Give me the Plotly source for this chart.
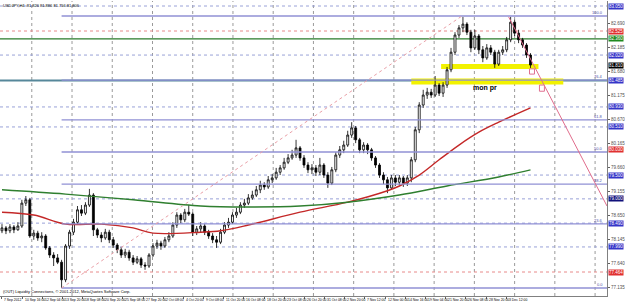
import plotly.graph_objects as go

# ---------------- data (USDJPY, H4 – each bar below summarises the visible candles) ----------------
opens = [78.33, 78.39, 78.33, 78.41, 78.35, 78.43, 78.91, 78.98, 78.22, 78.28,
         78.18, 78.22, 77.97, 77.82, 77.76, 77.67, 77.30, 78.01, 78.30, 78.51,
         78.77, 78.70, 78.87, 79.08, 78.35, 78.24, 78.18, 78.30, 78.14, 78.03,
         77.93, 77.82, 77.88, 77.76, 77.67, 77.74, 77.61, 77.59, 77.82, 78.01,
         78.07, 78.01, 78.14, 78.22, 78.45, 78.66, 78.56, 78.72, 78.68, 78.30,
         78.37, 78.43, 78.30, 78.22, 78.14, 78.09, 78.30, 78.45, 78.51, 78.66,
         78.72, 78.87, 78.91, 79.02, 79.08, 79.19, 79.29, 79.25, 79.40, 79.44,
         79.56, 79.65, 79.77, 79.86, 79.92, 80.07, 79.86, 79.71, 79.61, 79.65,
         79.56, 79.71, 79.50, 79.33, 79.61, 79.92, 80.03, 80.13, 80.34, 80.49,
         80.24, 80.03, 80.13, 80.03, 79.86, 79.71, 79.50, 79.40, 79.23, 79.44,
         79.35, 79.44, 79.33, 79.44, 79.82, 80.45, 80.97, 81.18, 81.24, 81.18,
         81.39, 81.22, 81.39, 81.71, 82.08, 82.44, 82.59, 82.67, 82.50, 82.17,
         82.42, 82.13, 81.96, 82.17, 82.08, 81.83, 82.08, 82.13, 82.34, 82.71,
         82.48, 82.34, 82.23, 82.02]
closes = [78.39, 78.33, 78.41, 78.35, 78.43, 78.91, 78.98, 78.22, 78.28, 78.18,
          78.22, 77.97, 77.82, 77.76, 77.67, 77.30, 78.01, 78.30, 78.51, 78.77,
          78.70, 78.87, 79.08, 78.35, 78.24, 78.18, 78.30, 78.14, 78.03, 77.93,
          77.82, 77.88, 77.76, 77.67, 77.74, 77.61, 77.59, 77.82, 78.01, 78.07,
          78.01, 78.14, 78.22, 78.45, 78.66, 78.56, 78.72, 78.68, 78.30, 78.37,
          78.43, 78.30, 78.22, 78.14, 78.09, 78.30, 78.45, 78.51, 78.66, 78.72,
          78.87, 78.91, 79.02, 79.08, 79.19, 79.29, 79.25, 79.40, 79.44, 79.56,
          79.65, 79.77, 79.86, 79.92, 80.07, 79.86, 79.71, 79.61, 79.65, 79.56,
          79.71, 79.50, 79.33, 79.61, 79.92, 80.03, 80.13, 80.34, 80.49, 80.24,
          80.03, 80.13, 80.03, 79.86, 79.71, 79.50, 79.40, 79.23, 79.44, 79.35,
          79.44, 79.33, 79.44, 79.82, 80.45, 80.97, 81.18, 81.24, 81.18, 81.39,
          81.22, 81.39, 81.71, 82.08, 82.44, 82.59, 82.67, 82.50, 82.17, 82.42,
          82.13, 81.96, 82.17, 82.08, 81.83, 82.08, 82.13, 82.34, 82.71, 82.48,
          82.34, 82.23, 82.02, 81.81]
highs = [78.47, 78.43, 78.47, 78.45, 78.51, 78.98, 79.06, 79.02, 78.35, 78.33,
         78.30, 78.26, 78.01, 77.88, 77.84, 77.72, 78.05, 78.35, 78.58, 78.85,
         78.87, 78.93, 79.21, 79.12, 78.39, 78.30, 78.37, 78.35, 78.20, 78.07,
         77.99, 77.95, 77.93, 77.82, 77.80, 77.78, 77.67, 77.86, 78.07, 78.14,
         78.12, 78.20, 78.30, 78.51, 78.72, 78.70, 78.79, 78.87, 78.72, 78.43,
         78.51, 78.47, 78.35, 78.28, 78.22, 78.37, 78.51, 78.60, 78.72, 78.81,
         78.93, 79.00, 79.10, 79.17, 79.27, 79.38, 79.35, 79.48, 79.52, 79.65,
         79.71, 79.86, 79.94, 80.03, 80.24, 80.11, 79.92, 79.77, 79.73, 79.71,
         79.86, 79.75, 79.56, 79.67, 79.98, 80.11, 80.22, 80.43, 80.61, 80.53,
         80.28, 80.19, 80.17, 80.07, 79.90, 79.75, 79.56, 79.46, 79.50, 79.50,
         79.50, 79.48, 79.50, 79.88, 80.51, 81.03, 81.29, 81.33, 81.31, 81.58,
         81.43, 81.45, 81.77, 82.17, 82.50, 82.65, 82.82, 82.71, 82.55, 82.55,
         82.46, 82.21, 82.25, 82.23, 82.13, 82.13, 82.21, 82.40, 82.82, 82.76,
         82.55, 82.38, 82.27, 82.06]
lows = [78.28, 78.26, 78.28, 78.28, 78.33, 78.39, 78.85, 78.18, 78.14, 78.12,
        78.09, 77.93, 77.76, 77.59, 77.63, 77.13, 77.25, 77.95, 78.24, 78.47,
        78.64, 78.66, 78.83, 78.22, 78.18, 78.09, 78.14, 78.07, 77.97, 77.86,
        77.76, 77.76, 77.70, 77.61, 77.63, 77.55, 77.51, 77.55, 77.78, 77.95,
        77.93, 77.97, 78.09, 78.18, 78.39, 78.49, 78.51, 78.64, 78.22, 78.24,
        78.30, 78.24, 78.16, 78.07, 77.97, 78.05, 78.26, 78.39, 78.47, 78.60,
        78.68, 78.81, 78.87, 78.98, 79.04, 79.12, 79.19, 79.21, 79.33, 79.40,
        79.50, 79.61, 79.73, 79.82, 79.86, 79.80, 79.65, 79.54, 79.52, 79.48,
        79.50, 79.44, 79.23, 79.29, 79.56, 79.86, 79.96, 80.09, 80.28, 80.17,
        79.96, 79.96, 79.94, 79.80, 79.65, 79.44, 79.31, 79.12, 79.19, 79.27,
        79.29, 79.25, 79.27, 79.35, 79.77, 80.38, 80.91, 81.10, 81.12, 81.14,
        81.16, 81.14, 81.33, 81.66, 82.02, 82.38, 82.50, 82.44, 82.08, 82.13,
        82.04, 81.87, 81.92, 82.02, 81.75, 81.79, 82.02, 82.08, 82.29, 82.42,
        82.27, 82.17, 81.96, 81.75]

# moving averages (values read at a few bars)
red_ma_bar = [0, 8, 16, 25, 33, 38, 50, 55, 62, 75, 87, 97, 100, 105, 110, 115, 120, 125, 130, 133]
red_ma_val = [78.72, 78.66, 78.47, 78.47, 78.39, 78.28, 78.30, 78.33, 78.45, 78.72,
              78.93, 79.17, 79.27, 79.50, 79.82, 80.13, 80.40, 80.61, 80.80, 80.91]
green_ma_bar = [0, 16, 33, 50, 62, 75, 87, 100, 112, 125, 133]
green_ma_val = [79.19, 79.10, 78.98, 78.85, 78.83, 78.85, 78.93, 79.08, 79.27, 79.46, 79.61]

date_labels = ["7 Sep 2012", "10 Sep 16:00", "12 Sep 04:00", "13 Sep 20:00", "18 Sep 08:00",
               "20 Sep 20:00", "25 Sep 08:00", "27 Sep 20:00", "2 Oct 08:00", "4 Oct 20:00",
               "9 Oct 08:00", "11 Oct 20:00", "16 Oct 08:00", "18 Oct 20:00", "23 Oct 08:00",
               "26 Oct 20:00", "31 Oct 08:00", "2 Nov 20:00", "7 Nov 12:00", "12 Nov 00:00",
               "14 Nov 16:00", "19 Nov 04:00", "21 Nov 20:00", "26 Nov 08:00", "28 Nov 20:00",
               "3 Dec 12:00"]
price_ticks = ["82.690", "82.185", "81.680", "81.175", "80.670", "80.165",
               "79.660", "79.155", "78.650", "78.145", "77.640", "77.135"]

# user drawn horizontal levels: (price, line colour, dash, label box colour)
levels = [
    (83.05, "#9aa2d8", "dot", "#3535c8"),
    (82.525, "#e88a8a", "dot", "#e03030"),
    (82.36, "#2a7a2a", "solid", "#1f8a1f"),
    (82.02, "#9aa2d8", "dot", "#3535c8"),
    (81.485, "#56879a", "solid", "#3535c8"),
    (80.93, "#9aa2d8", "dot", "#3535c8"),
    (80.51, "#9aa2d8", "dot", "#3535c8"),
    (79.50, "#9aa2d8", "dot", "#3535c8"),
    (79.00, "#9aa2d8", "dot", "#10107a"),
    (78.49, "#9aa2d8", "dot", "#3535c8"),
    (77.99, "#9aa2d8", "dot", "#3535c8"),
    (77.464, "#e88a8a", "dot", "#e03030"),
]
extra_boxes = [(80.03, "#e03030"), (76.94, "#3535c8")]

fib_low, fib_high = 77.128, 82.84
fib_bar_low, fib_bar_high = 15, 115.75
fib_levels = [0.0, 23.6, 38.2, 50.0, 61.8, 76.4, 100.0]

trend_pts = [(127.5, 82.82), (152.25, 78.85)]
yellow_bands = [(110.5, 135.0, 81.78, 5), (103.0, 141.25, 81.465, 6)]
alert_boxes = [(132.75, 134.0, 81.73, 81.62), (135.25, 136.5, 81.39, 81.26)]

title_text = "USDJPY,H4  81.826 81.886 81.756 81.806"
copyright_text = "(OUT) Liquidity Connections, \u00a9 2001-2012, MetaQuotes Software Corp."

# ---------------- figure ----------------
n = len(closes)
bars = list(range(n))
X_MIN, X_MAX = -0.5, 152.25
Y_MIN, Y_MAX = 76.96, 83.155

fig = go.Figure()
fig.add_trace(go.Candlestick(
    x=bars, open=opens, high=highs, low=lows, close=closes,
    increasing=dict(line=dict(color="black", width=0.8), fillcolor="white"),
    decreasing=dict(line=dict(color="black", width=0.8), fillcolor="black"),
    whiskerwidth=0, showlegend=False, hoverinfo="skip"))
fig.add_trace(go.Scatter(x=red_ma_bar, y=red_ma_val, mode="lines",
                         line=dict(color="#c42828", width=1.4, shape="spline"),
                         showlegend=False, hoverinfo="skip"))
fig.add_trace(go.Scatter(x=green_ma_bar, y=green_ma_val, mode="lines",
                         line=dict(color="#2f7f2f", width=1.4, shape="spline"),
                         showlegend=False, hoverinfo="skip"))

shapes = []
annotations = []

# vertical grid lines
g = 7.5
while g < X_MAX:
    shapes.append(dict(type="line", xref="x", yref="paper", x0=g, x1=g, y0=0, y1=1,
                       line=dict(color="#9a9a9a", width=1, dash="dot"), layer="below"))
    g += 10.125

# yellow highlight bands
for x0, x1, p, w in yellow_bands:
    shapes.append(dict(type="line", xref="x", yref="y", x0=x0, x1=x1, y0=p, y1=p,
                       line=dict(color="#f2f200", width=w), layer="below"))

# horizontal levels
for p, col, dash, box in levels:
    wdt = 2 if col == "#56879a" else (1.3 if dash == "solid" else 1)
    shapes.append(dict(type="line", xref="paper", yref="y", x0=0, x1=1, y0=p, y1=p,
                       line=dict(color=col, width=wdt, dash=dash), layer="below"))
    annotations.append(dict(xref="paper", yref="y", x=1, y=p, xanchor="left", yanchor="middle",
                            text="%.3f" % p, showarrow=False, xshift=1,
                            font=dict(size=4.5, color="white", family="Arial"),
                            bgcolor=box, borderpad=0))
for p, box in extra_boxes:
    annotations.append(dict(xref="paper", yref="y", x=1, y=p, xanchor="left", yanchor="middle",
                            text="%.3f" % p, showarrow=False, xshift=1,
                            font=dict(size=4.5, color="white", family="Arial"),
                            bgcolor=box, borderpad=0))
# current price box
annotations.append(dict(xref="paper", yref="y", x=1, y=closes[-1], xanchor="left", yanchor="middle",
                        text="%.3f" % closes[-1], showarrow=False, xshift=1,
                        font=dict(size=4.5, color="white", family="Arial"),
                        bgcolor="black", borderpad=0))

# fibonacci
for lv in fib_levels:
    p = fib_low + (fib_high - fib_low) * lv / 100.0
    shapes.append(dict(type="line", xref="x", yref="y", x0=fib_bar_low, x1=X_MAX, y0=p, y1=p,
                       line=dict(color="#9090d4", width=1.3)))
    annotations.append(dict(xref="paper", yref="y", x=1, y=p, xanchor="right", yanchor="bottom",
                            text="%.1f" % lv, showarrow=False, xshift=-2, yshift=-1,
                            font=dict(size=4, color="#5050a8", family="Arial")))
shapes.append(dict(type="line", xref="x", yref="y", x0=fib_bar_low, y0=fib_low,
                   x1=fib_bar_high, y1=fib_high,
                   line=dict(color="#eaa0a8", width=1, dash="dot")))

# trend line
shapes.append(dict(type="line", xref="x", yref="y", x0=trend_pts[0][0], y0=trend_pts[0][1],
                   x1=trend_pts[1][0], y1=trend_pts[1][1], line=dict(color="#e06c8c", width=1)))

# alert markers
for x0, x1, y0, y1 in alert_boxes:
    shapes.append(dict(type="rect", xref="x", yref="y", x0=x0, x1=x1, y0=y0, y1=y1,
                       line=dict(color="#e07090", width=1), fillcolor="white"))

# text
annotations.append(dict(xref="x", yref="y", x=121.5, y=81.33, text="<b>mon pr</b>", showarrow=False,
                        font=dict(size=7, color="black", family="Arial")))
annotations.append(dict(xref="paper", yref="paper", x=0, y=1, xanchor="left", yanchor="top",
                        text=title_text, showarrow=False, xshift=1, yshift=0,
                        font=dict(size=4, color="black", family="Arial")))
annotations.append(dict(xref="paper", yref="paper", x=0, y=0, xanchor="left", yanchor="bottom",
                        text=copyright_text, showarrow=False, xshift=1, yshift=0,
                        font=dict(size=4, color="black", family="Arial")))
tick_pos = [k * 5.075 for k in range(len(date_labels))]
for pos, lab in zip(tick_pos, date_labels):
    annotations.append(dict(xref="x", yref="paper", x=pos, y=0, xanchor="left", yanchor="top",
                            text=lab, showarrow=False, xshift=0.5, yshift=0,
                            font=dict(size=3.4, color="black", family="Arial")))

fig.update_layout(
    width=625, height=303,
    margin=dict(l=0, r=14, t=1, b=7),
    paper_bgcolor="white", plot_bgcolor="white",
    shapes=shapes, annotations=annotations, showlegend=False,
    xaxis=dict(range=[X_MIN, X_MAX], rangeslider=dict(visible=False), showgrid=False,
               zeroline=False, tickvals=tick_pos, ticktext=[""] * len(tick_pos),
               ticks="outside", ticklen=2, tickcolor="#606060",
               showline=True, linecolor="#808080", linewidth=1),
    yaxis=dict(range=[Y_MIN, Y_MAX], side="right", showgrid=False, zeroline=False,
               tickvals=[float(t) for t in price_ticks], ticktext=price_ticks,
               ticks="outside", ticklen=2, tickcolor="#606060",
               tickfont=dict(size=4.5, color="#505050", family="Arial"),
               showline=True, linecolor="#808080", linewidth=1),
)

fig.write_html("out.html")
